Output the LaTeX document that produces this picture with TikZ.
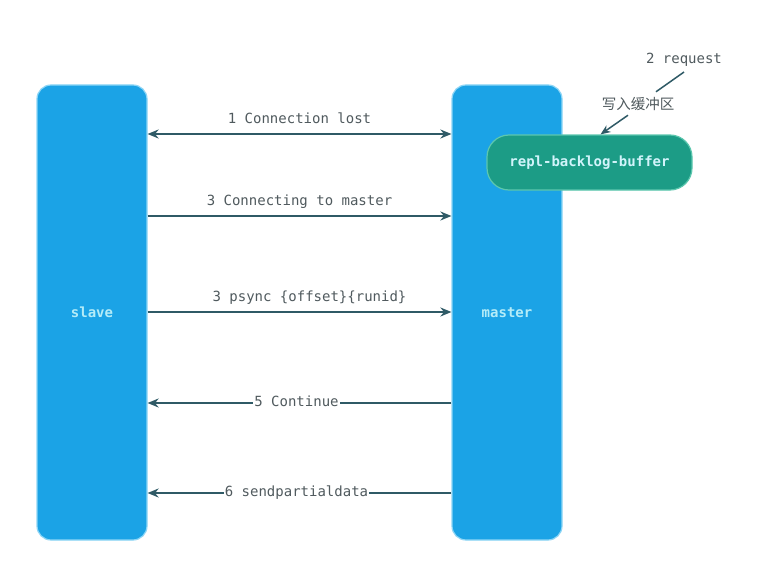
\documentclass[tikz,border=0pt]{standalone}
\usepackage{fontspec}
\setmonofont{DejaVu Sans Mono}
\newfontfamily\cjk{Noto Sans CJK SC}
\usetikzlibrary{arrows.meta}
\definecolor{nodeblue}{HTML}{1BA3E6}
\definecolor{nodeglow}{HTML}{8ED6F6}
\definecolor{buffteal}{HTML}{1C9C86}
\definecolor{buffglow}{HTML}{5CC7AE}
\definecolor{msgink}{HTML}{2F5A66}
\definecolor{msgtext}{HTML}{505A5E}
\definecolor{nodetext}{HTML}{B4ECF8}
\tikzset{
  peer box/.style={rectangle, rounded corners=14pt, fill=nodeblue,
    draw=nodeglow, line width=1.2pt, minimum width=110pt,
    minimum height=455pt, text=nodetext,
    font=\ttfamily\bfseries\fontsize{14}{16}\selectfont},
  buffer box/.style={rectangle, rounded corners=22pt, fill=buffteal,
    draw=buffglow, line width=1.2pt, minimum width=205pt,
    minimum height=55pt, text=nodetext!60!white,
    font=\ttfamily\bfseries\fontsize{14}{16}\selectfont},
  msg/.style={draw=msgink, line width=1.8pt},
  msg tip/.style={-{Stealth[length=11pt,width=9pt]}},
  msg label/.style={font=\ttfamily\fontsize{14}{16}\selectfont,
    text=msgtext, text height=10pt, text depth=3pt},
  note label/.style={font=\cjk\fontsize{14.5}{16}\selectfont, text=msgtext},
}

\begin{document}
\begin{tikzpicture}[x=1pt, y=-1pt]
  \useasboundingbox (0,0) rectangle (772,578);
  \fill[white] (0,0) rectangle (772,578);

  \node[peer box] (slave) at (92,312.5) {slave};
  \node[peer box] (master) at (507,312.5) {master};
  \node[buffer box] (buffer) at (589.5,162.5) {repl-backlog-buffer};

  % message rows
  \coordinate (r1) at (0,134);
  \coordinate (r2) at (0,216);
  \coordinate (r3) at (0,312);
  \coordinate (r4) at (0,403);
  \coordinate (r5) at (0,493);

  \draw[msg, {Stealth[length=11pt,width=9pt]}-{Stealth[length=11pt,width=9pt]}]
    (r1 -| slave.east) -- node[msg label, above=3pt] {1 Connection lost}
    (r1 -| master.west);
  \draw[msg, msg tip] (r2 -| slave.east)
    -- node[msg label, above=3pt] {3 Connecting to master} (r2 -| master.west);
  \draw[msg, msg tip] (r3 -| slave.east)
    -- node[msg label, above=3pt, xshift=10pt] {3 psync \{offset\}\{runid\}}
    (r3 -| master.west);
  \draw[msg, msg tip] (r4 -| master.west)
    -- node[msg label, fill=white, inner sep=1pt, xshift=-3pt] {5 Continue}
    (r4 -| slave.east);
  \draw[msg, msg tip] (r5 -| master.west)
    -- node[msg label, fill=white, inner sep=1pt, xshift=-3pt] {6 sendpartialdata}
    (r5 -| slave.east);

  % request into the backlog
  \node[msg label] (request) at (684,60) {2 request};
  \node[note label] (write) at (638,104) {写入缓冲区};
  \draw[msg, line width=1.5pt] ([yshift=-2pt]request.south)
    -- ([xshift=18pt,yshift=2pt]write.north);
  \draw[msg, line width=1.5pt, -{Stealth[length=10pt,width=8pt]}]
    ([xshift=-10pt,yshift=-1pt]write.south) -- ([xshift=11pt]buffer.north);
\end{tikzpicture}
\end{document}
